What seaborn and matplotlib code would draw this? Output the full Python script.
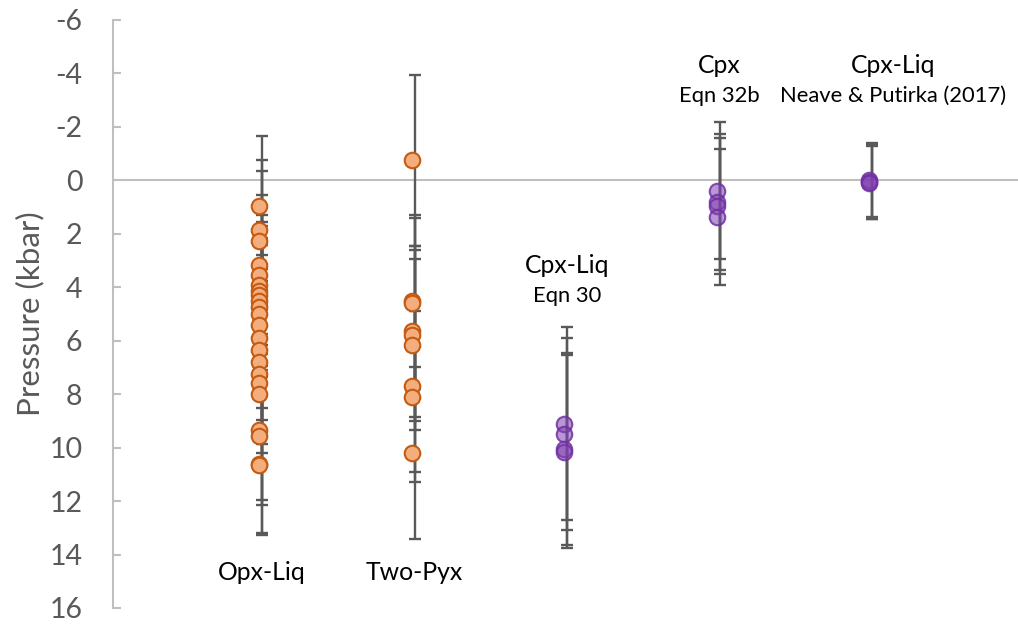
import numpy as np
import pandas as pd
import matplotlib
matplotlib.use("Agg")
import matplotlib.pyplot as plt
from matplotlib.transforms import ScaledTranslation
import seaborn as sns

# ---- data ----
categories = ["Opx-Liq", "Two-Pyx", "Cpx-Liq Eqn 30", "Cpx Eqn 32b", "Cpx-Liq N&P 2017"]
titles = ["Opx-Liq", "Two-Pyx", "Cpx-Liq", "Cpx", "Cpx-Liq"]
subtitles = ["", "", "Eqn 30", "Eqn 32b", "Neave & Putirka (2017)"]

opx_liq = [0.95, 1.85, 2.25, 3.15, 3.55, 3.9, 4.15, 4.3, 4.5, 4.75, 5.0, 5.4, 5.9,
           6.35, 6.8, 7.25, 7.6, 8.0, 9.35, 9.55, 10.6, 10.65]
two_pyx = [-0.75, 4.5, 4.6, 5.65, 5.8, 6.15, 7.7, 8.1, 10.2]
cpx_liq_30 = [9.1, 9.5, 10.05, 10.15]
cpx_32b = [0.38, 0.82, 0.95, 1.36]
cpx_liq_np = [0.0, 0.05, 0.08]

errors = [2.6, 3.2, 3.6, 2.55, 1.38]
groups = [opx_liq, two_pyx, cpx_liq_30, cpx_32b, cpx_liq_np]
mineral = ["opx", "opx", "cpx", "cpx", "cpx"]

yticks = list(range(-6, 17, 2))

rows = []
for i, (vals, err, m) in enumerate(zip(groups, errors, mineral)):
    for v in vals:
        rows.append({"pos": i, "cat": categories[i], "P": v, "err": err, "kind": m})
df = pd.DataFrame(rows)

# ---- style ----
sns.set_style("white")
plt.rcParams["font.family"] = ["Lato", "DejaVu Sans"]

fig = plt.figure(figsize=(10.18, 6.24), dpi=100)
ax = fig.add_axes([113 / 1018, 16 / 624, 905 / 1018, 588 / 624])

grey_axis = "#BFBFBF"
err_col = "#595959"

ax.axhline(0, color=grey_axis, lw=1.5, zorder=1)

ax.errorbar(df["pos"], df["P"], yerr=df["err"], fmt="none", ecolor=err_col,
            elinewidth=1.7, capsize=4.6, capthick=1.7, zorder=2)

off = ScaledTranslation(-3 / 100, 0, fig.dpi_scale_trans)

d_opx = df[df["kind"] == "opx"]
sns.scatterplot(data=d_opx, x="pos", y="P", ax=ax, s=125, color="#F4AE7E",
                edgecolor="#C55A11", linewidth=1.5, zorder=3, legend=False)
ax.collections[-1].set_offset_transform(ax.transData + off)

d_cpx = df[df["kind"] == "cpx"]
sns.scatterplot(data=d_cpx, x="pos", y="P", ax=ax, s=125,
                color=(0.50, 0.25, 0.70, 0.55),
                edgecolor=(0.44, 0.19, 0.63, 0.85), linewidth=1.5, zorder=3, legend=False)
ax.collections[-1].set_offset_transform(ax.transData + off)

# ---- axes ----
ax.set_ylim(16, -6)
ax.set_xlim(-0.977, 4.957)
ax.set_yticks(yticks)
ax.set_yticklabels([str(t) for t in yticks])
ax.set_xticks([])
ax.set_xlabel("")
ax.set_ylabel("Pressure (kbar)", fontsize=22.5, color="#595959")
ax.yaxis.set_label_coords(-0.076, 0.5)

for s in ["top", "right", "bottom"]:
    ax.spines[s].set_visible(False)
ax.spines["left"].set_color(grey_axis)
ax.spines["left"].set_linewidth(1.5)
ax.tick_params(axis="y", direction="in", length=6, width=1.5, color=grey_axis,
               labelsize=20.5, labelcolor="#595959", pad=22, left=True)

# ---- group labels ----
tfs, sfs = 17.8, 15.8
ax.text(0, 14.66, titles[0], ha="center", va="center", fontsize=tfs, color="black")
ax.text(1, 14.66, titles[1], ha="center", va="center", fontsize=tfs, color="black")
ax.text(2, 3.17, titles[2], ha="center", va="center", fontsize=tfs, color="black")
ax.text(2, 4.33, subtitles[2], ha="center", va="center", fontsize=sfs, color="black")
ax.text(3, -4.29, titles[3], ha="center", va="center", fontsize=tfs, color="black")
ax.text(3, -3.17, subtitles[3], ha="center", va="center", fontsize=sfs, color="black")
ax.text(4.14, -4.29, titles[4], ha="center", va="center", fontsize=tfs, color="black")
ax.text(4.14, -3.17, subtitles[4], ha="center", va="center", fontsize=sfs, color="black")

fig.savefig("out.png", dpi=100)
